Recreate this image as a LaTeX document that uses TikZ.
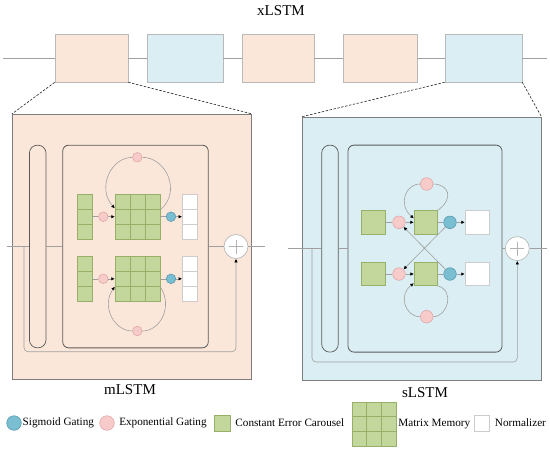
\documentclass[tikz,border=0pt]{standalone}
\usepackage{fontspec}
\setmainfont{Liberation Serif}
\usepackage{tikz}
\usetikzlibrary{arrows.meta,positioning,calc}
\definecolor{cellorange}{RGB}{251,231,217}
\definecolor{cellblue}{RGB}{218,238,243}
\definecolor{cecgreen}{RGB}{195,214,155}
\definecolor{cecedge}{RGB}{150,176,104}
\definecolor{exppink}{RGB}{248,203,203}
\definecolor{expedge}{RGB}{222,160,160}
\definecolor{sigblue}{RGB}{122,190,210}
\definecolor{sigedge}{RGB}{82,146,170}
\definecolor{wiregray}{RGB}{160,160,160}
\definecolor{framegray}{RGB}{125,125,125}
\definecolor{innergray}{RGB}{90,90,90}

\begin{document}
\begin{tikzpicture}[
 x=1pt,y=-1pt,
 ttl/.style={font=\fontsize{15}{18}\selectfont,inner sep=0pt},
 legtxt/.style={font=\fontsize{11.2}{13}\selectfont,inner sep=0pt},
 block/.style={draw=gray!55,line width=0.6pt,minimum width=#1,minimum height=48pt,inner sep=0pt},
 bigbox/.style={draw=framegray,line width=0.8pt,inner sep=0pt},
 pill/.style={draw=innergray,line width=0.7pt,rounded corners=8pt,minimum width=16.6pt,inner sep=0pt},
 innerbox/.style={draw=innergray,line width=0.8pt,rounded corners=6pt,inner sep=0pt},
 ceccol/.style={draw=cecedge,fill=cecgreen,line width=0.5pt,minimum width=15pt,minimum height=45pt,inner sep=0pt},
 cecbox/.style={draw=cecedge,fill=cecgreen,line width=0.5pt,minimum size=#1,inner sep=0pt},
 normcol/.style={draw=gray!40,fill=white,line width=0.5pt,minimum width=15pt,minimum height=45pt,inner sep=0pt},
 normbox/.style={draw=gray!40,fill=white,line width=0.5pt,inner sep=0pt},
 expgate/.style={circle,draw=expedge,fill=exppink,line width=0.5pt,minimum size=#1,inner sep=0pt},
 siggate/.style={circle,draw=sigedge,fill=sigblue,line width=0.5pt,minimum size=#1,inner sep=0pt},
 plusnode/.style={circle,draw=gray!60,fill=white,line width=0.6pt,minimum size=24pt,inner sep=0pt,
   path picture={\draw[gray!60,line width=0.5pt] ([xshift=5pt]path picture bounding box.west) -- ([xshift=-5pt]path picture bounding box.east)
     ([yshift=-5pt]path picture bounding box.north) -- ([yshift=5pt]path picture bounding box.south);}},
 wire/.style={draw=wiregray,line width=0.6pt},
 arr/.style={wire,-{Latex[length=3.5pt,width=3.5pt,color=black]}},
 zoomline/.style={draw=black!85,line width=0.6pt,dash pattern=on 2.5pt off 1.5pt}
]
\useasboundingbox (0,0) rectangle (550,451);

% top chain of blocks
\node[ttl] (xt) at (281,11) {xLSTM};
\coordinate (tin) at (3,58);
\coordinate (tout) at (547,58);
\node[block=73pt,fill=cellorange] (b1) at (91.5,58) {};
\node[block=76pt,fill=cellblue] (b2) at (185,58) {};
\node[block=72pt,fill=cellorange] (b3) at (278,58) {};
\node[block=74pt,fill=cellorange] (b4) at (380,58) {};
\node[block=77pt,fill=cellblue] (b5) at (483.5,58) {};
\draw[wire] (tin) -- (b1) -- (b2) -- (b3) -- (b4) -- (b5) -- (tout);

% zoomed boxes
\node[bigbox,fill=cellorange,minimum width=239.4pt,minimum height=264.7pt] (mbox) at (132,246.7) {};
\node[bigbox,fill=cellblue,minimum width=238.3pt,minimum height=263.5pt] (sbox) at (421.85,248.75) {};
\draw[zoomline] (b1.south west) -- (mbox.north west);
\draw[zoomline] (b1.south east) -- (mbox.north east);
\draw[zoomline] (b5.south west) -- (sbox.north west);
\draw[zoomline] (b5.south east) -- (sbox.north east);
\node[ttl] (mlabel) at (130,390) {mLSTM};
\node[ttl] (slabel) at (425,393) {sLSTM};

% mLSTM block
\node[pill,minimum height=202.7pt] (mpill) at (37.7,246.5) {};
\node[innerbox,minimum width=145.6pt,minimum height=202.7pt] (minner) at (135.5,246.5) {};
\node[plusnode] (mplus) at (236,246.5) {};
\coordinate (min) at (6.7,246.5);
\coordinate (mbr) at (24,246.5);
\coordinate (mout) at (265,246.5);
\coordinate (mlow) at (236,351.7);
\draw[wire] (min) -- (mpill) -- (minner) -- (mplus) -- (mout);
\draw[arr,rounded corners=4pt] (mbr) |- (mlow) -- (mplus);

\foreach \r/\y in {1/216.7,2/278.8}{
  \node[ceccol] (mc\r) at (84.8,\y) {};
  \node[expgate=9.6pt] (mp\r) at (103.3,\y) {};
  \node[cecbox=45pt] (mm\r) at (137.5,\y) {};
  \node[siggate=9.6pt] (mb\r) at (171,\y) {};
  \node[normcol] (mn\r) at (189.8,\y) {};
  \draw[wire] (mc\r) -- (mp\r);
  \draw[arr] (mp\r) -- (mm\r);
  \draw[wire] (mm\r) -- (mb\r);
  \draw[arr] (mb\r) -- (mn\r);
}
\foreach \n in {mc1,mc2,mm1,mm2}{
  \foreach \f in {0.3333,0.6667}
    \draw[cecedge,line width=0.5pt] ($(\n.north west)!\f!(\n.south west)$) -- ($(\n.north east)!\f!(\n.south east)$);
}
\foreach \n in {mm1,mm2}{
  \foreach \f in {0.3333,0.6667}
    \draw[cecedge,line width=0.5pt] ($(\n.north west)!\f!(\n.north east)$) -- ($(\n.south west)!\f!(\n.south east)$);
}
\foreach \n in {mn1,mn2}{
  \foreach \f in {0.3333,0.6667}
    \draw[gray!40,line width=0.5pt] ($(\n.north west)!\f!(\n.south west)$) -- ($(\n.north east)!\f!(\n.south east)$);
}
\node[expgate=9.6pt] (mg1) at (137.3,157.3) {};
\node[expgate=9.6pt] (mg2) at (137.3,331) {};
\draw[wire] ($(mm1.east)+(0,-6.7)$) .. controls (182,191.5) and (166,157.3) .. (mg1);
\draw[arr] (mg1) .. controls (111,157.3) and (96.5,188) .. ($(mm1.west)+(0,-8.4)$);
\draw[wire] ($(mm2.east)+(0,7.9)$) .. controls (173,305.6) and (161,331) .. (mg2);
\draw[arr] (mg2) .. controls (114,331) and (101,306) .. ($(mm2.west)+(0,7.9)$);

% sLSTM block
\node[pill,minimum height=207pt] (spill) at (330,248.6) {};
\node[innerbox,minimum width=154pt,minimum height=207pt] (sinner) at (425,248.6) {};
\node[plusnode] (splus) at (517.3,248.6) {};
\coordinate (sin) at (288,248.6);
\coordinate (sbr) at (312,248.6);
\coordinate (sout) at (547,248.6);
\coordinate (slow) at (517.3,362);
\draw[wire] (sin) -- (spill) -- (sinner) -- (splus) -- (sout);
\draw[arr,rounded corners=4pt] (sbr) |- (slow) -- (splus);

\foreach \r/\y in {1/222.3,2/274}{
  \node[cecbox=23.3pt] (sc\r) at (373.3,\y) {};
  \node[expgate=12.6pt] (sp\r) at (399,\y) {};
  \node[cecbox=23.3pt] (ss\r) at (425.7,\y) {};
  \node[siggate=12.6pt] (sb\r) at (450,\y) {};
  \node[normbox,minimum width=24pt,minimum height=23.3pt] (sn\r) at (477,\y) {};
  \draw[wire] (sc\r) -- (sp\r);
  \draw[arr] (sp\r) -- (ss\r);
  \draw[wire] (ss\r) -- (sb\r);
  \draw[arr] (sb\r) -- (sn\r);
}
\node[expgate=12.6pt] (sg1) at (426.7,184) {};
\node[expgate=12.6pt] (sg2) at (426.7,316.7) {};
\draw[wire] (ss1.north east) .. controls (455,198) and (448,184) .. (sg1);
\draw[arr] (sg1) .. controls (405,184) and (398,205) .. ($(ss1.west)+(0,-4)$);
\draw[wire] (ss2.south east) .. controls (455,290) and (448,316.7) .. (sg2);
\draw[arr] (sg2) .. controls (405,316.7) and (398,295) .. ($(ss2.west)+(0,9.3)$);
\draw[arr] (sb1) -- (sp2);
\draw[arr] (sb2) -- (sp1);

% legend
\node[siggate=14.6pt] (lsig) at (14,423) {};
\node[legtxt,right=1pt of lsig] (tsig) {Sigmoid Gating};
\node[expgate=14.6pt] (lexp) at (107,423) {};
\node[legtxt,right=4.5pt of lexp] (texp) {Exponential Gating};
\node[cecbox=16pt] (lcec) at (222,423) {};
\node[legtxt,right=5pt of lcec] (tcec) {Constant Error Carousel};
\node[cecbox=44pt] (lmat) at (374,424) {};
\foreach \f in {0.3333,0.6667}{
  \draw[cecedge,line width=0.5pt] ($(lmat.north west)!\f!(lmat.south west)$) -- ($(lmat.north east)!\f!(lmat.south east)$);
  \draw[cecedge,line width=0.5pt] ($(lmat.north west)!\f!(lmat.north east)$) -- ($(lmat.south west)!\f!(lmat.south east)$);
}
\node[legtxt,right=2pt of lmat] (tmat) {Matrix Memory};
\node[normbox,minimum width=15pt,minimum height=16pt] (lnorm) at (481.5,423) {};
\node[legtxt,right=5.5pt of lnorm] (tnorm) {Normalizer};
\end{tikzpicture}
\end{document}
